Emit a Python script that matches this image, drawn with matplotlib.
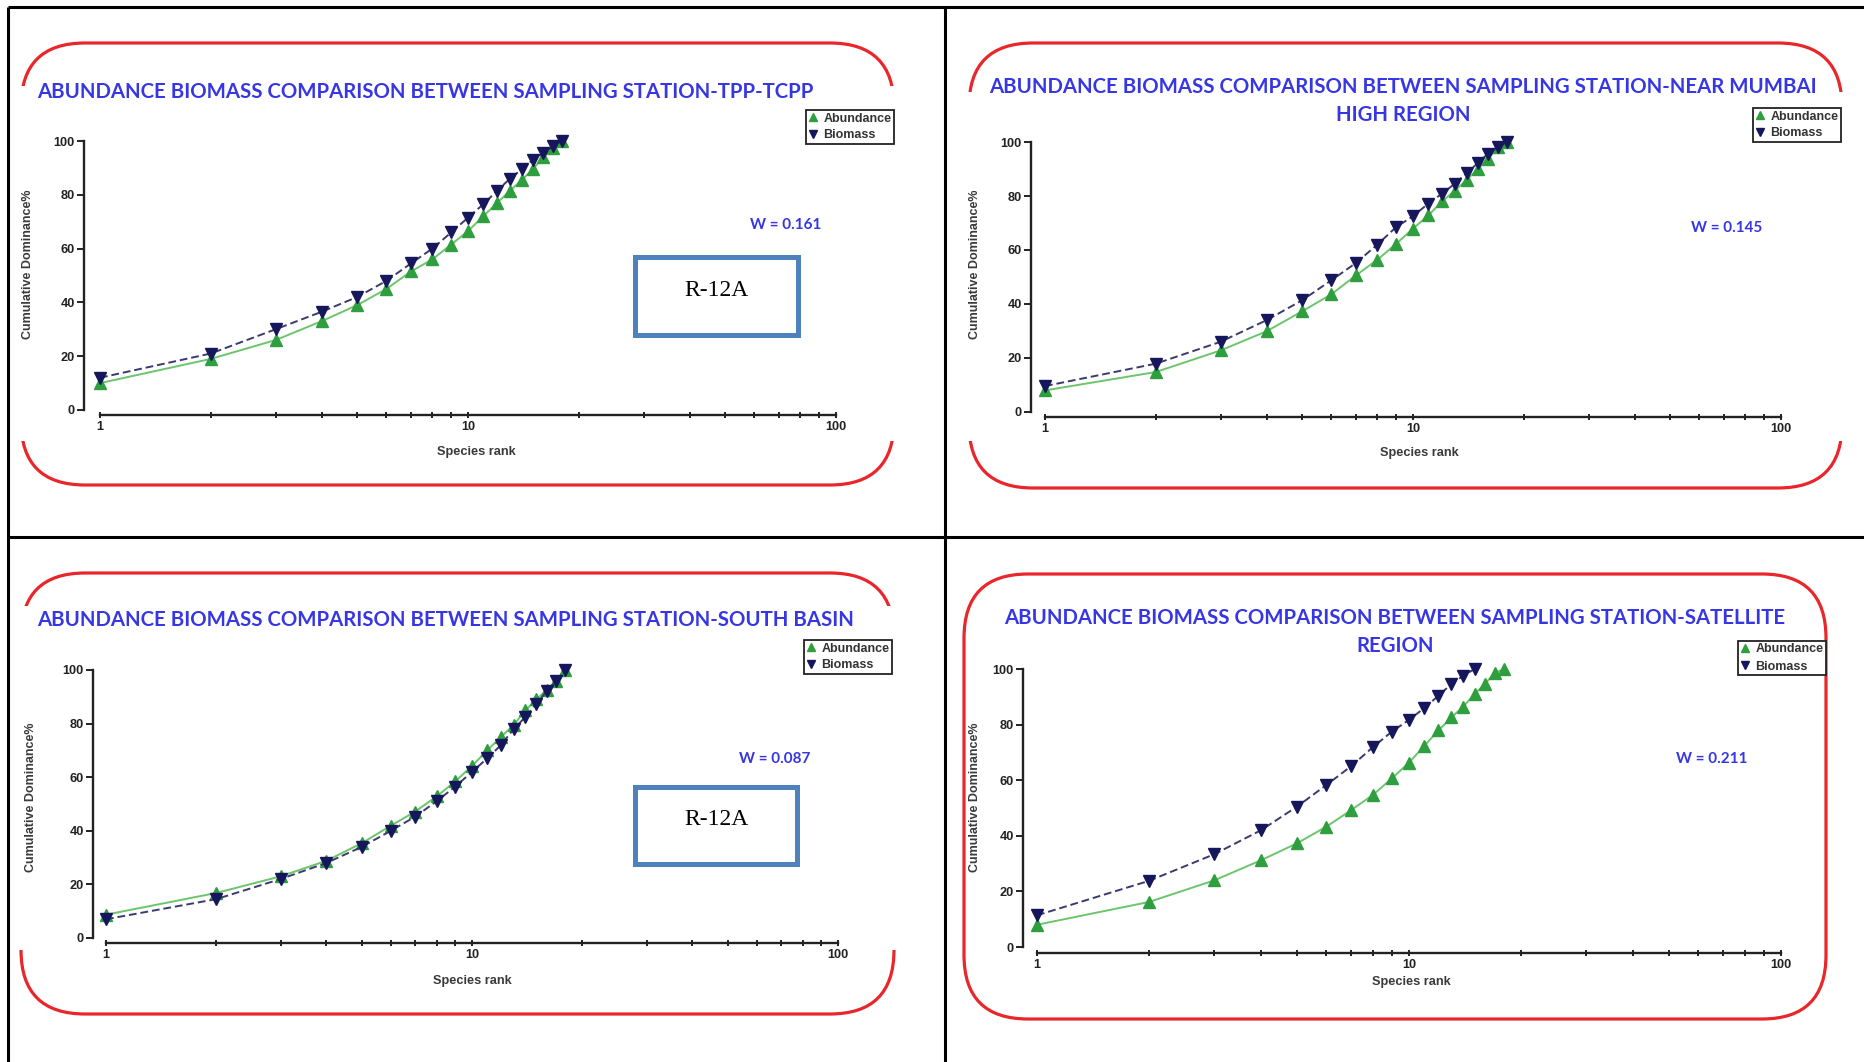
"""Four ABC (abundance / biomass comparison) curves laid out as a 2x2 report table."""

import matplotlib

matplotlib.use("Agg")
import matplotlib.pyplot as plt
from matplotlib.lines import Line2D
from matplotlib.patches import FancyBboxPatch, Rectangle
from matplotlib.ticker import FixedLocator, NullFormatter

W_PX, H_PX = 1865, 1062
TITLE_BLUE = "#3636E4"
GREEN_LINE, GREEN_MK = "#6CC56C", "#2E9E3E"
NAVY_LINE, NAVY_MK = "#3A3A6E", "#16165C"

# ---- data ----
TITLES = [
    ["ABUNDANCE BIOMASS COMPARISON BETWEEN SAMPLING STATION-TPP-TCPP"],
    ["ABUNDANCE BIOMASS COMPARISON BETWEEN SAMPLING STATION-NEAR MUMBAI", "HIGH REGION"],
    ["ABUNDANCE BIOMASS COMPARISON BETWEEN SAMPLING STATION-SOUTH BASIN"],
    ["ABUNDANCE BIOMASS COMPARISON BETWEEN SAMPLING STATION-SATELLITE", "REGION"],
]
W_VALUES = ["0.161", "0.145", "0.087", "0.211"]
STATION_TAG = ["R-12A", None, "R-12A", None]

TPP_ABUND = [10, 19, 26, 33, 39, 45, 51.5, 56, 61.5, 66.5, 72, 77, 81.5, 85.5, 89.5, 94, 97.5, 100]
TPP_BIOM = [12, 21, 30, 36.5, 42, 48, 54.5, 60, 66, 71.5, 76.5, 81.5, 86, 89.5, 93, 95.5, 98, 100]

MUMBAI_ABUND = [8, 14.8, 22.8, 29.9, 37.3, 43.6, 50.6, 56.4, 62.3, 67.9, 72.8, 78, 82, 86, 90, 93.8, 98, 100]
MUMBAI_BIOM = [9.6, 17.9, 26, 34, 41.4, 48.8, 55.2, 62, 68.5, 72.5, 77.2, 80.9, 84.6, 88.5, 92.2, 95.7, 98, 100]

SOUTH_ABUND = [8.7, 16.8, 23, 28.8, 35.4, 41.9, 47.2, 52.8, 58.4, 64.2, 70, 75, 79.5, 85, 89, 92.5, 96, 100]
SOUTH_BIOM = [7, 14.5, 22, 28, 34, 40, 45.3, 51, 56.5, 62, 67, 72, 78, 82.5, 87.5, 92, 96, 100]

SAT_ABUND = [8, 16.2, 24, 31.2, 37.3, 43.3, 49.3, 54.7, 60.7, 66.3, 72.4, 77.9, 82.6, 86.5, 91, 94.6, 98.6, 100]
SAT_BIOM = [11.4, 23.8, 33.4, 42, 50.5, 58.3, 65.1, 71.9, 77.5, 81.7, 86, 90.4, 94.6, 97.6, 100]

SERIES = [(TPP_ABUND, TPP_BIOM), (MUMBAI_ABUND, MUMBAI_BIOM),
          (SOUTH_ABUND, SOUTH_BIOM), (SAT_ABUND, SAT_BIOM)]

# ---- layout in reference pixels ----
PANELS = [
    dict(box=(21, 43, 894, 485), cover=(14, 86, 901, 441), title_y=92, title_x=425,
         spine=84, x1=100, dec=368, y0=410, y100=141, xline=415,
         ylab=(28, 264), xlab=(476, 452), w=(786, 225), leg=(894, 110),
         tag=(635, 257, 798, 335)),
    dict(box=(969, 43, 1842, 488), cover=(962, 92, 1849, 441), title_y=87, title_x=1403,
         spine=1031, x1=1045, dec=368, y0=412, y100=142, xline=417,
         ylab=(975, 264), xlab=(1419, 453), w=(1727, 228), leg=(1841, 108), tag=None),
    dict(box=(21, 573, 894, 1014), cover=(14, 606, 901, 950), title_y=620, title_x=446,
         spine=93, x1=106, dec=366, y0=938, y100=670, xline=943,
         ylab=(31, 797), xlab=(472, 981), w=(775, 759), leg=(892, 640),
         tag=(635, 787, 797, 864)),
    dict(box=(964, 574, 1826, 1019), cover=None, title_y=618, title_x=1395,
         spine=1023, x1=1037, dec=372, y0=947, y100=669, xline=953,
         ylab=(975, 797), xlab=(1411, 982), w=(1712, 759), leg=(1826, 641), tag=None),
]

plt.rcParams.update({"font.family": ["Liberation Sans", "DejaVu Sans"]})

fig = plt.figure(figsize=(W_PX / 100, H_PX / 100), dpi=100)
bg = fig.add_axes([0, 0, 1, 1])
bg.set_xlim(0, W_PX)
bg.set_ylim(H_PX, 0)
bg.axis("off")

# table grid
kw = dict(color="black", lw=2.2, solid_capstyle="butt")
bg.plot([8, W_PX], [7, 7], **kw)
bg.plot([8, 8], [7, H_PX], **kw)
bg.plot([945, 945], [7, H_PX], **kw)
bg.plot([8, W_PX], [537, 537], **kw)

for i, p in enumerate(PANELS):
    l, t, r, b = p["box"]
    bg.add_patch(FancyBboxPatch((l, t), r - l, b - t,
                                boxstyle="round,pad=0,rounding_size=64",
                                fc="white", ec="#E8262B", lw=2.3, zorder=1))
    if p["cover"]:
        cl, ct, cr, cb = p["cover"]
        bg.add_patch(Rectangle((cl, ct), cr - cl, cb - ct, fc="white", ec="none", zorder=2))
    for k, line in enumerate(TITLES[i]):
        bg.text(p["title_x"], p["title_y"] + 28 * k, line, ha="center", va="center",
                family="Lato", weight="bold", fontsize=14.7, color=TITLE_BLUE, zorder=5)
    bg.text(*p["w"], f"W = {W_VALUES[i]}", ha="center", va="center", family="Lato",
            weight="bold", fontsize=11, color=TITLE_BLUE, zorder=5)
    bg.text(*p["ylab"], "Cumulative Dominance%", rotation=90, ha="center", va="center",
            fontsize=9, weight="bold", color="#3a3a3a", zorder=5)
    bg.text(*p["xlab"], "Species rank", ha="center", va="center",
            fontsize=9.2, weight="bold", color="#3a3a3a", zorder=5)
    if STATION_TAG[i]:
        tl, tt, tr, tb = p["tag"]
        bg.add_patch(Rectangle((tl, tt), tr - tl, tb - tt, fc="white", ec="#4F81BD",
                               lw=3.6, zorder=5))
        bg.text((tl + tr) / 2, (tt + tb) / 2 - 6, STATION_TAG[i], ha="center", va="center",
                family="Liberation Serif", fontsize=17, color="black", zorder=6)

    # the plot itself
    right = p["x1"] + 2 * p["dec"] + 10
    ax = fig.add_axes([p["spine"] / W_PX, 1 - p["y0"] / H_PX,
                       (right - p["spine"]) / W_PX, (p["y0"] - p["y100"]) / H_PX])
    ax.set_facecolor("none")
    ax.set_xscale("log")
    ax.set_xlim(10 ** ((p["spine"] - p["x1"]) / p["dec"]), 10 ** ((right - p["x1"]) / p["dec"]))
    ax.set_ylim(0, 100)
    for s in ("top", "right"):
        ax.spines[s].set_visible(False)
    for s in ("left", "bottom"):
        ax.spines[s].set_linewidth(1.7)
        ax.spines[s].set_color("#222222")
    ax.spines["left"].set_bounds(0, 100)
    ax.spines["bottom"].set_bounds(1, 100)
    ax.spines["bottom"].set_position(("outward", (p["xline"] - p["y0"]) * 0.72))
    ax.xaxis.set_major_locator(FixedLocator([1, 10, 100]))
    ax.set_xticklabels(["1", "10", "100"])
    ax.xaxis.set_minor_locator(FixedLocator([2, 3, 4, 5, 6, 7, 8, 9, 20, 30, 40, 50, 60, 70, 80, 90]))
    ax.xaxis.set_minor_formatter(NullFormatter())
    ax.set_yticks([0, 20, 40, 60, 80, 100])
    ax.tick_params(axis="x", which="both", direction="inout", length=5, width=1.4,
                   color="#222222", pad=2, labelsize=9.2, labelcolor="#222222")
    ax.tick_params(axis="y", direction="out", length=5, width=1.4, color="#222222",
                   pad=1.5, labelsize=9.2, labelcolor="#222222")
    for lab in ax.get_xticklabels() + ax.get_yticklabels():
        lab.set_fontweight("bold")

    abund, biom = SERIES[i]
    ax.plot(range(1, len(abund) + 1), abund, color=GREEN_LINE, lw=1.4, marker="^", ms=8,
            mfc=GREEN_MK, mec=GREEN_MK, clip_on=False, zorder=3)
    ax.plot(range(1, len(biom) + 1), biom, color=NAVY_LINE, lw=1.4, ls=(0, (4, 2)),
            marker="v", ms=8, mfc=NAVY_MK, mec=NAVY_MK, clip_on=False, zorder=4)

    handles = [Line2D([], [], ls="none", marker="^", ms=6, mfc=GREEN_MK, mec=GREEN_MK),
               Line2D([], [], ls="none", marker="v", ms=6, mfc=NAVY_MK, mec=NAVY_MK)]
    leg = fig.legend(handles, ["Abundance", "Biomass"], loc="upper right",
                     bbox_to_anchor=(p["leg"][0] / W_PX, 1 - p["leg"][1] / H_PX),
                     frameon=True, fancybox=False, edgecolor="#222222", framealpha=1,
                     borderpad=0.2, labelspacing=0.4, handlelength=0.8, handletextpad=0.4,
                     borderaxespad=0, prop=dict(size=9, weight="bold"))
    leg.get_frame().set_linewidth(1.3)
    for txt in leg.get_texts():
        txt.set_color("#333333")

fig.savefig("out.png", dpi=100)
